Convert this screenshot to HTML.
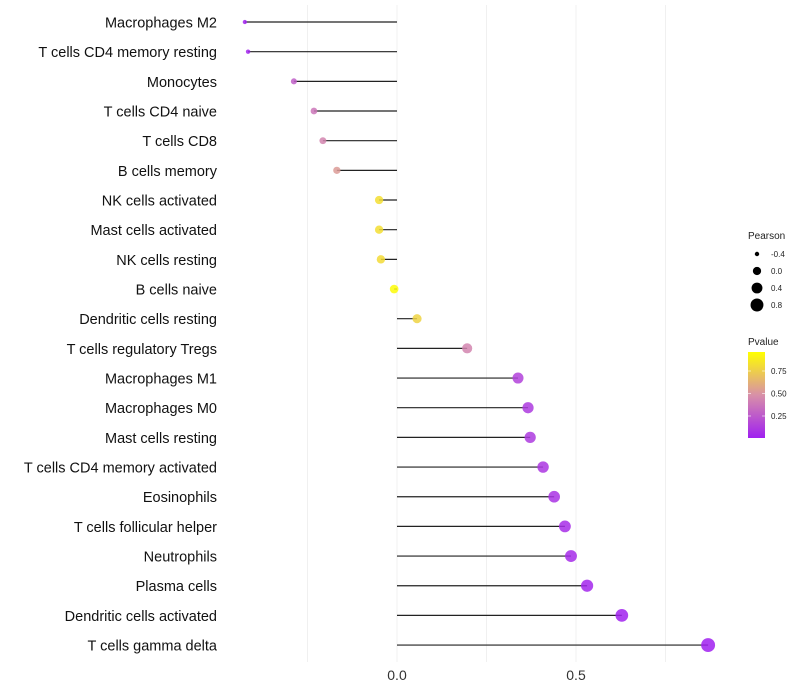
<!DOCTYPE html>
<html><head><meta charset="utf-8"><style>
body{margin:0;background:#fff;font-family:"Liberation Sans",sans-serif}
svg{display:block}
</style></head><body>
<svg id="chart" width="800" height="700"></svg>
<script>
const categories=["Macrophages M2","T cells CD4 memory resting","Monocytes","T cells CD4 naive","T cells CD8","B cells memory","NK cells activated","Mast cells activated","NK cells resting","B cells naive","Dendritic cells resting","T cells regulatory  Tregs ","Macrophages M1","Macrophages M0","Mast cells resting","T cells CD4 memory activated","Eosinophils","T cells follicular helper","Neutrophils","Plasma cells","Dendritic cells activated","T cells gamma delta"];
const pearson=[-0.425,-0.416,-0.288,-0.232,-0.207,-0.168,-0.05,-0.05,-0.045,-0.008,0.056,0.196,0.338,0.366,0.372,0.408,0.439,0.469,0.486,0.531,0.628,0.869];
const pvalues=[0.01,0.02,0.28,0.38,0.45,0.55,0.85,0.85,0.84,0.98,0.8,0.45,0.15,0.12,0.12,0.1,0.08,0.06,0.05,0.03,0.01,0.0001];
const xTicks=[0,0.5];
const xTickLabels=["0.0","0.5"];
const gridVals=[-0.25,0.25,0.75];
const sizeLegend=[-0.4,0.0,0.4,0.8];
const colorLegend=[0.25,0.5,0.75];

const NS="http://www.w3.org/2000/svg";
const svg=document.getElementById('chart');
function el(t,a,p){const e=document.createElementNS(NS,t);for(const k in a)e.setAttribute(k,a[k]);(p||svg).appendChild(e);return e;}
const xs=v=>397+v*358;
const ys=i=>22+i*29.67;
const rs=v=>Math.sqrt(Math.max(1,19+34*v));
function lerp(a,b,t){return a.map((x,i)=>Math.round(x+(b[i]-x)*t));}
function col(p){const s=[[160,32,240],[216,144,168],[255,255,0]];let c=p<0.5?lerp(s[0],s[1],p/0.5):lerp(s[1],s[2],(p-0.5)/0.5);return `rgb(${c})`;}

gridVals.concat(xTicks).forEach(v=>{
  const g=el('line',{x1:xs(v),x2:xs(v),y1:5,y2:662,stroke:'#f0f0f0','stroke-width':1});
  
  
});
xTicks.forEach((v,i)=>{
  const t=el('text',{x:xs(v),y:680,'text-anchor':'middle','font-size':14,fill:'#333'});
  t.textContent=xTickLabels[i];
  
  
});
categories.forEach((c,i)=>{
  const y=ys(i);
  const t=el('text',{x:217,y:y+5.5,'text-anchor':'end','font-size':14.5,fill:'#111'});
  t.textContent=c;
  
  
  const l=el('line',{x1:xs(0),x2:xs(pearson[i]),y1:y,y2:y,stroke:'#222','stroke-width':1.2});
  
  
  const d=el('circle',{cx:xs(pearson[i]),cy:y,r:rs(pearson[i]),fill:col(pvalues[i]),'fill-opacity':0.85});
  
  
});
let t=el('text',{x:748,y:239,'font-size':10,fill:'#222'});t.textContent='Pearson';


sizeLegend.forEach((v,i)=>{
  const y=254+i*17;
  const c=el('circle',{cx:757,cy:y,r:rs(v)*0.95,fill:'#000'});
  
  
  const tt=el('text',{x:771,y:y+3,'font-size':8,fill:'#222'});tt.textContent=v.toFixed(1);
  
  
});
t=el('text',{x:748,y:345,'font-size':10,fill:'#222'});t.textContent='Pvalue';


const defs=el('defs',{});
const lg=el('linearGradient',{id:'pg',x1:0,y1:1,x2:0,y2:0},defs);
[[0,0],[0.5,0.5],[1,1]].forEach(s=>el('stop',{offset:s[0],'stop-color':col(s[1])},lg));
const bar=el('rect',{x:748,y:352,width:17,height:86,fill:'url(#pg)'});


const cy=p=>438.5-p*90;
colorLegend.forEach(v=>{
  el('line',{x1:748,x2:751,y1:cy(v),y2:cy(v),stroke:'#fff','stroke-width':0.6});
  el('line',{x1:762,x2:765,y1:cy(v),y2:cy(v),stroke:'#fff','stroke-width':0.6});
  const tt=el('text',{x:771,y:cy(v)+3,'font-size':8,fill:'#222'});tt.textContent=v.toFixed(2);
  
  
});
</script>
</body></html>
